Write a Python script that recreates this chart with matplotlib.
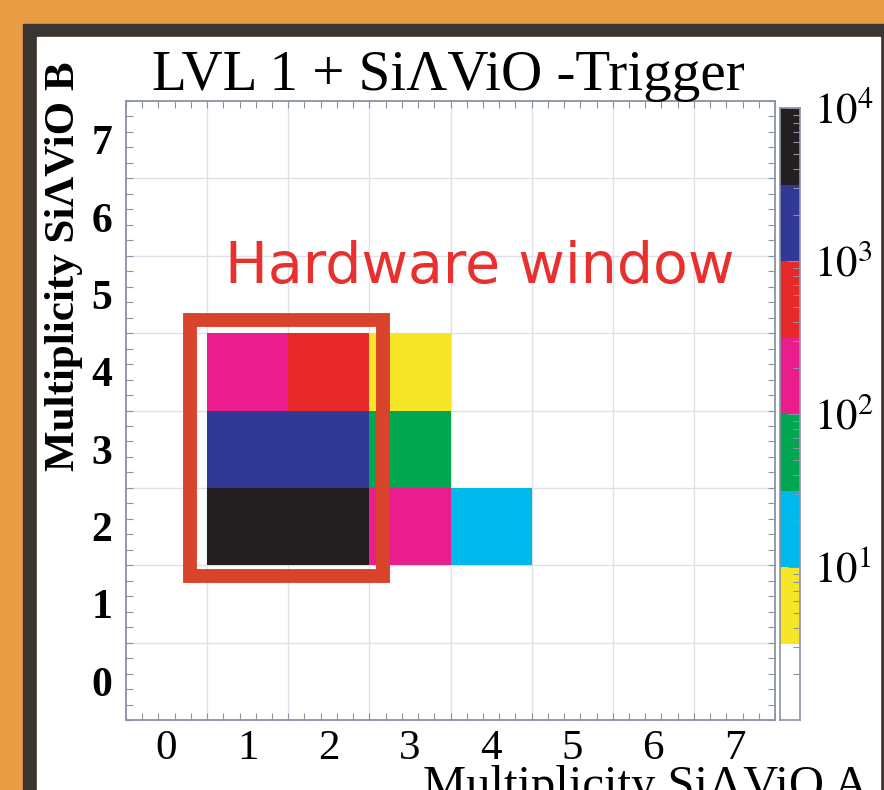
import numpy as np
import matplotlib
matplotlib.use("Agg")
import matplotlib.pyplot as plt
from matplotlib.colors import ListedColormap, BoundaryNorm
from matplotlib.patches import Rectangle
from matplotlib.ticker import FixedLocator, LogLocator, NullFormatter

W, H = 884, 790

# multiplicity bins for both detector halves
mult_a = [0, 1, 2, 3, 4, 5, 6, 7]
mult_b = [0, 1, 2, 3, 4, 5, 6, 7]

# filled bins: multiplicity A, multiplicity B, number of events
hit_a = [1, 2, 1, 2, 3, 1, 2, 3, 3, 4]
hit_b = [2, 2, 3, 3, 2, 4, 4, 3, 4, 2]
hit_n = [5000, 5200, 1800, 2000, 150, 180, 600, 50, 5, 20]

# half-decade colour levels of the z axis
level_edges = [1, 3.16, 10, 31.6, 100, 316, 1000, 3162, 10000]
level_colors = ['#ffffff', '#f7e627', '#00b9ec', '#00a650',
                '#e91e8c', '#e8292a', '#323896', '#231f20']
cbar_ticks = [10, 100, 1000, 10000]
cbar_labels = ['$10^{1}$', '$10^{2}$', '$10^{3}$', '$10^{4}$']

# bins inside the hardware trigger window (A range, B range)
window_a = (1, 2)
window_b = (2, 4)

plt.rcParams['font.family'] = 'Liberation Serif'
plt.rcParams['mathtext.fontset'] = 'stix'


def fx(px):
    return px / W


def fy(py):
    return 1 - py / H


fig = plt.figure(figsize=(W / 100, H / 100), dpi=100)
fig.patch.set_facecolor('#e89c43')

# dark frame and white slide panel, kept behind the axes
fig.patches.append(Rectangle((fx(23), fy(H + 10)), fx(W + 10), fy(24) - fy(H + 10),
                             transform=fig.transFigure, color='#3b3431', zorder=-2))
fig.patches.append(Rectangle((fx(37), fy(H + 10)), fx(880) - fx(37), fy(37) - fy(H + 10),
                             transform=fig.transFigure, color='white', zorder=-1))

ax = fig.add_axes([fx(126), fy(720), fx(775) - fx(126), fy(101) - fy(720)])

counts = np.zeros((len(mult_b), len(mult_a)))
for a, b, n in zip(hit_a, hit_b, hit_n):
    counts[b, a] = n
counts = np.ma.masked_equal(counts, 0)

edges_a = np.arange(len(mult_a) + 1) - 0.5
edges_b = np.arange(len(mult_b) + 1) - 0.5

cmap = ListedColormap(level_colors)
norm = BoundaryNorm(level_edges, ncolors=len(level_colors))
ax.pcolormesh(edges_a, edges_b, counts, cmap=cmap, norm=norm, zorder=2)

ax.set_xlim(edges_a[0], edges_a[-1])
ax.set_ylim(edges_b[0], edges_b[-1])

# light grid on the bin boundaries
for e in edges_a[1:-1]:
    ax.axvline(e, color='#dde1e8', lw=1.0, zorder=1)
for e in edges_b[1:-1]:
    ax.axhline(e, color='#dde1e8', lw=1.0, zorder=1)

frame_col = '#8a93a5'
for sp in ax.spines.values():
    sp.set_color(frame_col)
    sp.set_linewidth(1.3)

ax.set_xticks(mult_a)
ax.set_xticklabels([str(m) for m in mult_a], fontsize=31)
ax.set_yticks(mult_b)
ax.set_yticklabels([str(m) for m in mult_b], fontsize=30, fontweight='bold')
ax.tick_params(which='major', length=0, pad=10)
ax.tick_params(axis='x', which='major', pad=7)
ax.xaxis.set_minor_locator(FixedLocator(np.arange(edges_a[0], edges_a[-1] + 0.01, 0.2)))
ax.yaxis.set_minor_locator(FixedLocator(np.arange(edges_b[0], edges_b[-1] + 0.01, 0.2)))
ax.tick_params(which='minor', direction='in', length=5, width=0.8, color=frame_col,
               top=True, right=True, bottom=True, left=True)

# hardware trigger window
pad_l, pad_r, pad_b, pad_t = 0.21, 0.17, 0.14, 0.17
box = Rectangle((window_a[0] - 0.5 - pad_l, window_b[0] - 0.5 - pad_b),
                window_a[1] - window_a[0] + 1 + pad_l + pad_r,
                window_b[1] - window_b[0] + 1 + pad_b + pad_t,
                fill=False, edgecolor='#d9432b', lw=10, zorder=5, clip_on=False)
ax.add_patch(box)
fig.text(fx(480), fy(283), 'Hardware window', family='DejaVu Sans', fontsize=41,
         color='#e8312e', ha='center', va='baseline')

# z-axis colour scale
cax = fig.add_axes([fx(780), fy(720), fx(800) - fx(780), fy(108) - fy(720)])
for lo, hi, c in zip(level_edges[:-1], level_edges[1:], level_colors):
    cax.axhspan(lo, hi, color=c, lw=0)
cax.set_yscale('log')
cax.set_ylim(level_edges[0], level_edges[-1])
cax.set_xticks([])
cax.yaxis.tick_right()
cax.yaxis.set_major_locator(FixedLocator(cbar_ticks))
cax.set_yticklabels(cbar_labels, fontsize=31)
cax.yaxis.set_minor_locator(LogLocator(subs=np.arange(2, 10)))
cax.yaxis.set_minor_formatter(NullFormatter())
cax.tick_params(which='both', direction='in', color=frame_col, width=0.8)
cax.tick_params(which='major', length=9, pad=10)
cax.tick_params(which='minor', length=5)
for sp in cax.spines.values():
    sp.set_color(frame_col)
    sp.set_linewidth(1.2)

fig.text(fx(448), fy(90), 'LVL 1 + Si\u039bViO -Trigger', fontsize=41,
         ha='center', va='baseline')
fig.text(fx(64), fy(266), 'Multiplicity Si\u039bViO B', fontsize=31, fontweight='bold',
         rotation=90, ha='center', va='center')
fig.text(fx(646), fy(799), 'Multiplicity Si\u039bViO A', fontsize=35,
         ha='center', va='baseline')

fig.savefig('out.png', dpi=100, facecolor=fig.get_facecolor())
